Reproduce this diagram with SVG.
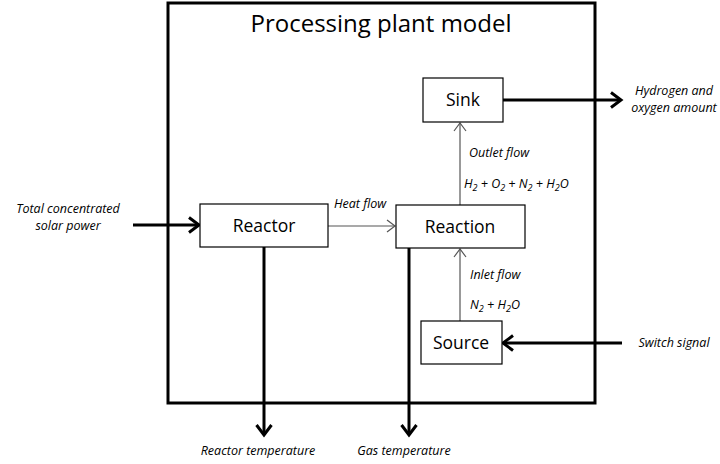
<svg xmlns="http://www.w3.org/2000/svg" width="720" height="464" viewBox="0 0 720 464">
<defs>
<style>
.box{fill:#fff;stroke:#000;stroke-width:1.2}
.lbl{font-family:"Open Sans","Liberation Sans",sans-serif;font-size:17.5px;fill:#000;text-anchor:middle}
.it{font-family:"Open Sans","Liberation Sans",sans-serif;font-size:12.5px;font-style:italic;fill:#000}
.thick{stroke:#000;stroke-width:3;fill:none}
.thin{stroke:#555;stroke-width:1.2;fill:none}
</style>
<marker id="hb" markerUnits="userSpaceOnUse" markerWidth="18" markerHeight="20" refX="14" refY="9" orient="auto" viewBox="0 0 18 18">
<path d="M4,1.5 L14,9 L4,16.5" fill="none" stroke="#000" stroke-width="3"/>
</marker>
<marker id="ht" markerUnits="userSpaceOnUse" markerWidth="12" markerHeight="14" refX="10" refY="7" orient="auto" viewBox="0 0 12 14">
<path d="M2,1 L10,7 L2,13" fill="none" stroke="#555" stroke-width="1.2"/>
</marker>
</defs>
<rect width="720" height="464" fill="#fff"/>
<g id="plant">
<rect x="168" y="3" width="427" height="400" fill="none" stroke="#000" stroke-width="3"/>
<text x="381" y="32" class="lbl" style="font-size:24px">Processing plant model</text>
</g>
<g id="connectors">
<line x1="133" y1="225" x2="199" y2="225" class="thick" marker-end="url(#hb)"/>
<line x1="328" y1="226" x2="395" y2="226" class="thin" marker-end="url(#ht)"/>
<line x1="460" y1="205" x2="460" y2="123" class="thin" marker-end="url(#ht)"/>
<line x1="460" y1="321" x2="460" y2="249" class="thin" marker-end="url(#ht)"/>
<line x1="503" y1="100" x2="621" y2="100" class="thick" marker-end="url(#hb)"/>
<line x1="622" y1="343" x2="503" y2="343" class="thick" marker-end="url(#hb)"/>
<line x1="264" y1="247" x2="264" y2="435" class="thick" marker-end="url(#hb)"/>
<line x1="409" y1="248" x2="409" y2="435" class="thick" marker-end="url(#hb)"/>
<text x="334" y="208" class="it">Heat flow</text>
<text x="469" y="157" class="it">Outlet flow</text>
<text x="464" y="188" class="it">H<tspan dy="3" font-size="9">2</tspan><tspan dy="-3"> + O</tspan><tspan dy="3" font-size="9">2</tspan><tspan dy="-3"> + N</tspan><tspan dy="3" font-size="9">2</tspan><tspan dy="-3"> + H</tspan><tspan dy="3" font-size="9">2</tspan><tspan dy="-3">O</tspan></text>
<text x="470" y="279" class="it">Inlet flow</text>
<text x="470" y="309" class="it">N<tspan dy="3" font-size="9">2</tspan><tspan dy="-3"> + H</tspan><tspan dy="3" font-size="9">2</tspan><tspan dy="-3">O</tspan></text>
<text x="68" y="213" class="it" text-anchor="middle">Total concentrated</text>
<text x="68" y="230" class="it" text-anchor="middle">solar power</text>
<text x="674" y="95" class="it" text-anchor="middle">Hydrogen and</text>
<text x="674" y="112" class="it" text-anchor="middle">oxygen amount</text>
<text x="674" y="347" class="it" text-anchor="middle">Switch signal</text>
<text x="258" y="455" class="it" text-anchor="middle">Reactor temperature</text>
<text x="404" y="455" class="it" text-anchor="middle">Gas temperature</text>
</g>
<g id="reactor">
<rect x="200" y="204" width="128" height="43" class="box"/>
<text x="264" y="232" class="lbl">Reactor</text>
</g>
<g id="reaction">
<rect x="396" y="205" width="129" height="43" class="box"/>
<text x="460" y="233" class="lbl">Reaction</text>
</g>
<g id="sink">
<rect x="423" y="78" width="80" height="44" class="box"/>
<text x="463" y="106" class="lbl">Sink</text>
</g>
<g id="source">
<rect x="421" y="321" width="81" height="43" class="box"/>
<text x="461" y="349" class="lbl">Source</text>
</g>
</svg>
